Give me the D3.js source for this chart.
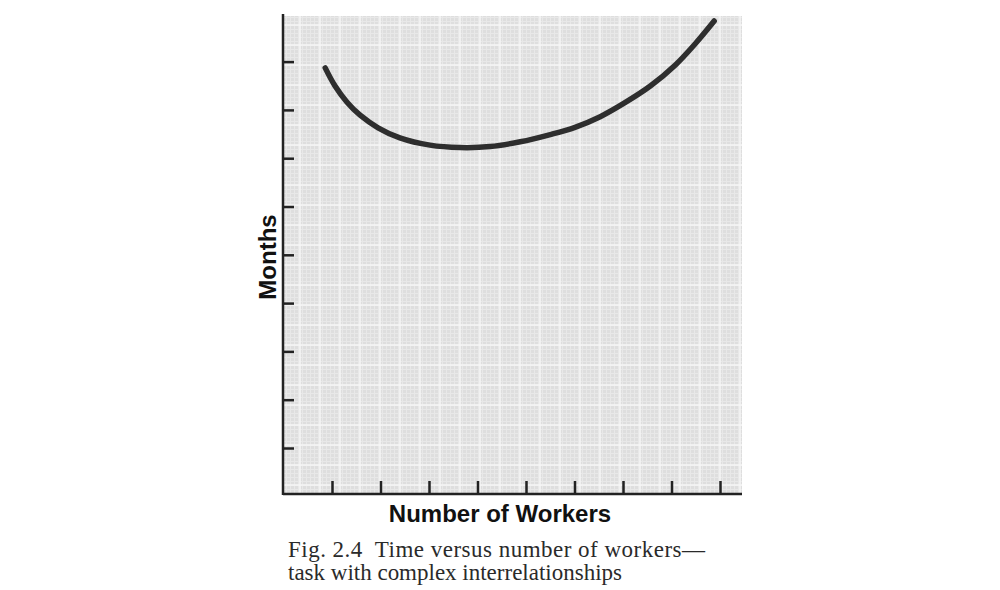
<!DOCTYPE html>
<html>
<head>
<meta charset="utf-8">
<script src="https://cdn.jsdelivr.net/npm/d3@7"></script>
<style>
  html, body { margin: 0; padding: 0; background: #ffffff; }
  svg { display: block; }
</style>
</head>
<body>
<svg id="chart" width="1000" height="590"></svg>
<script>
// ---- data ----
const workers = [0.86, 1.06, 1.31, 1.58, 1.95, 2.4, 3.02, 3.64, 4.26, 4.88, 5.5, 6.01, 6.53, 7.04, 7.57, 8.08, 8.49, 8.88];
const months  = [8.87, 8.50, 8.16, 7.89, 7.63, 7.42, 7.27, 7.22, 7.24, 7.34, 7.49, 7.64, 7.86, 8.15, 8.50, 8.93, 9.37, 9.84];
const xTicks = [1, 2, 3, 4, 5, 6, 7, 8, 9];
const yTicks = [1, 2, 3, 4, 5, 6, 7, 8, 9];
const xTitle = "Number of Workers";
const yTitle = "Months";
const captionLines = ["Fig. 2.4  Time versus number of workers\u2014", "task with complex interrelationships"];

(function () {
const svg = d3.select("#chart");

const pL = 283, pR = 742, pT = 16, pB = 494;
const x = d3.scaleLinear().domain([0, 1]).range([283.5, 332]);
const y = d3.scaleLinear().domain([0, 1]).range([496.3, 448]);

// background
const plot = svg.append("g");
plot.append("rect").attr("x", pL).attr("y", pT).attr("width", pR - pL).attr("height", pB - pT).attr("fill", "#dedede");
// fine sub-grid
const fine = plot.append("g").attr("stroke", "#e8e8e8").attr("stroke-width", 1);
d3.range(pL + 3, pR, 4).forEach(v => fine.append("line").attr("x1", v + 0.5).attr("x2", v + 0.5).attr("y1", pT).attr("y2", pB));
d3.range(pT + 1, pB, 4).forEach(v => fine.append("line").attr("y1", v + 0.5).attr("y2", v + 0.5).attr("x1", pL).attr("x2", pR));
// major white grid
const major = plot.append("g").attr("stroke", "#f6f6f6").attr("stroke-width", 1.5);
d3.range(300, pR, 20).forEach(v => major.append("line").attr("x1", v).attr("x2", v).attr("y1", pT).attr("y2", pB));
d3.range(25, pB, 20).forEach(v => major.append("line").attr("y1", v).attr("y2", v).attr("x1", pL).attr("x2", pR));

// axes
const axisColor = "#222";
const xAxis = d3.axisBottom(x).tickValues(xTicks).tickSize(-13).tickFormat("");
const gx = svg.append("g").attr("transform", `translate(0,${pB})`).call(xAxis);
gx.select(".domain").remove();
gx.selectAll(".tick line").attr("stroke", axisColor).attr("stroke-width", 2.5);
svg.append("line").attr("x1", pL).attr("x2", pR).attr("y1", pB).attr("y2", pB).attr("stroke", axisColor).attr("stroke-width", 2.5);

const yAxis = d3.axisLeft(y).tickValues(yTicks).tickSize(-11).tickFormat("");
const gy = svg.append("g").attr("transform", `translate(${pL},0)`).call(yAxis);
gy.select(".domain").remove();
gy.selectAll(".tick line").attr("stroke", axisColor).attr("stroke-width", 2.5);
svg.append("line").attr("x1", pL).attr("x2", pL).attr("y1", 14).attr("y2", pB + 1).attr("stroke", axisColor).attr("stroke-width", 2.5);

// curve
const pts = workers.map((w, i) => [w, months[i]]);
svg.append("path")
  .datum(pts)
  .attr("fill", "none")
  .attr("stroke", "#2e2e2e")
  .attr("stroke-width", 5.5)
  .attr("stroke-linecap", "round")
  .attr("stroke-linejoin", "round")
  .attr("d", d3.line().x(d => x(d[0])).y(d => y(d[1])).curve(d3.curveCatmullRom));

// titles
svg.append("text")
  .attr("x", 500).attr("y", 522)
  .attr("text-anchor", "middle")
  .attr("font-family", "Liberation Sans, Arial, sans-serif")
  .attr("font-weight", "bold").attr("font-size", 24)
  .attr("fill", "#111")
  .text(xTitle);

svg.append("text")
  .attr("transform", "translate(276,257) rotate(-90)")
  .attr("text-anchor", "middle")
  .attr("font-family", "Liberation Sans, Arial, sans-serif")
  .attr("font-weight", "bold").attr("font-size", 24)
  .attr("fill", "#111")
  .text(yTitle);

const capLens = [417, 334];
captionLines.forEach((t, i) => {
  svg.append("text")
    .attr("x", 288).attr("y", 557 + i * 23)
    .attr("font-family", "Liberation Serif, Times New Roman, serif")
    .attr("font-size", 23)
    .attr("fill", "#2a2a2a")
    .style("white-space", "pre")
    .attr("textLength", capLens[i])
    .attr("lengthAdjust", "spacing")
    .text(t);
});
})();
</script>
</body>
</html>
